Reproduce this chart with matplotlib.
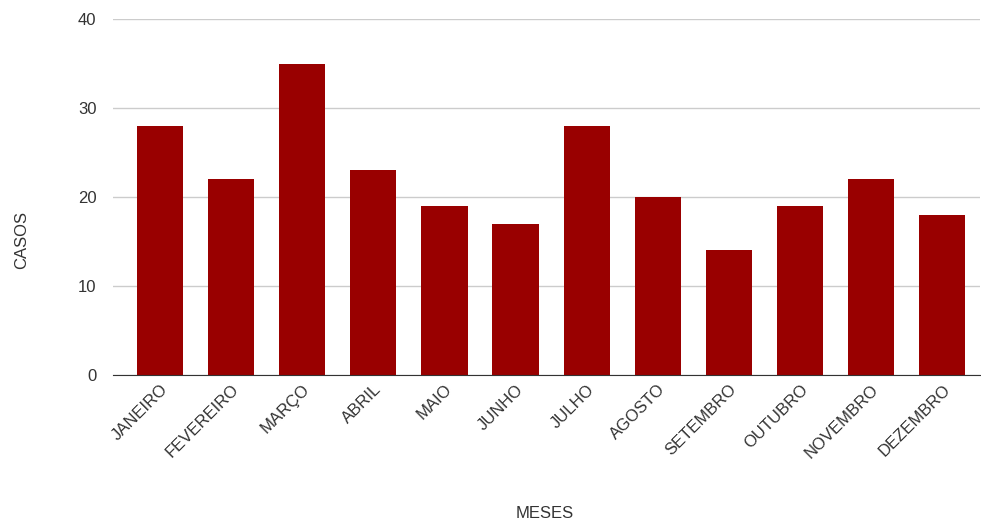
import matplotlib
matplotlib.use("Agg")
import matplotlib.pyplot as plt

months = ["JANEIRO", "FEVEREIRO", "MARÇO", "ABRIL", "MAIO", "JUNHO",
          "JULHO", "AGOSTO", "SETEMBRO", "OUTUBRO", "NOVEMBRO", "DEZEMBRO"]
casos = [28, 22, 35, 23, 19, 17, 28, 20, 14, 19, 22, 18]
yticks = [0, 10, 20, 30, 40]

plt.rcParams['font.family'] = ['Liberation Sans', 'DejaVu Sans']
W, H = 981, 529
fig = plt.figure(figsize=(W/100, H/100), dpi=100)
ax = fig.add_axes([113/W, (H-375)/H, 867/W, 356/H])

x = list(range(len(months)))
ax.bar(x, casos, width=0.65, color="#990000", zorder=3)
ax.set_xlim(-0.66, 11.53)
ax.set_ylim(0, 40)
ax.set_yticks(yticks)
ax.set_yticklabels([str(v) for v in yticks])
ax.set_xticks(x)
ax.set_xticklabels(months, rotation=45, ha='right', rotation_mode='anchor')
ax.grid(axis='y', color='#cccccc', linewidth=1, zorder=0)
for s in ['top', 'right', 'left']:
    ax.spines[s].set_visible(False)
ax.spines['bottom'].set_color('#333333')
ax.spines['bottom'].set_zorder(4)
ax.tick_params(axis='both', length=0, labelsize=12, labelcolor='#333333')
ax.tick_params(axis='y', pad=12)
ax.tick_params(axis='x', pad=5)
fig.text(22/W, 1-240/H, "CASOS", rotation=90, ha='center', va='center',
         fontsize=12, color='#333333')
fig.text(545/W, 1-513/H, "MESES", ha='center', va='center',
         fontsize=12, color='#333333')
fig.savefig("out.png", dpi=100)
